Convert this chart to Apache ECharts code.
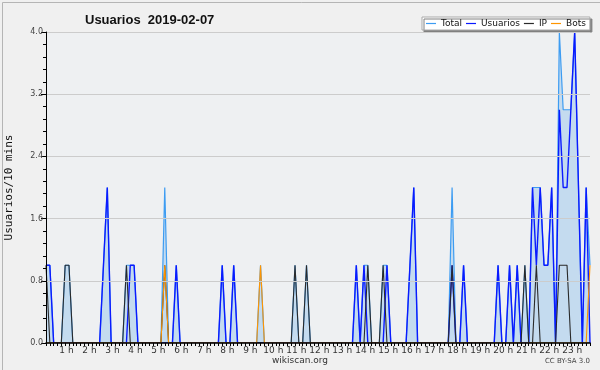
<!DOCTYPE html>
<html><head><meta charset="utf-8">
<script src="https://cdn.jsdelivr.net/npm/echarts@6/dist/echarts.min.js"></script>
<style>html,body{margin:0;padding:0;background:#f0f0f0}#c{width:600px;height:370px}</style>
</head><body><div id="c"></div>
<script>
// one value per 10 minutes; each row is one hour (00h .. 23h), last slot shown is 23:40
var total = [
 1,1,0,0,0,1, 1,0,0,0,0,0, 0,0,0,1,2,0, 0,0,0,1,1,1,
 0,0,0,0,0,0, 0,2,0,0,1,0, 0,0,0,0,0,0, 0,0,0,0,1,0,
 0,1,0,0,0,0, 0,0,1,0,0,0, 0,0,0,0,0,1, 0,0,1,0,0,0,
 0,0,0,0,0,0, 0,0,0,1,0,1, 1,0,0,0,1,1, 0,0,0,0,0,1,
 2,0,0,0,0,0, 0,0,0,0,2,0, 0,1,0,0,0,0, 0,0,0,0,1,0,
 0,1,0,1,0,1, 0,2,2,2,1,1, 2,0,4,3,3,3, 4,2,0,2,1
];
var usuarios = [
 1,1,0,0,0,0, 0,0,0,0,0,0, 0,0,0,1,2,0, 0,0,0,0,1,1,
 0,0,0,0,0,0, 0,0,0,0,1,0, 0,0,0,0,0,0, 0,0,0,0,1,0,
 0,1,0,0,0,0, 0,0,0,0,0,0, 0,0,0,0,0,0, 0,0,0,0,0,0,
 0,0,0,0,0,0, 0,0,0,1,0,1, 0,0,0,0,0,1, 0,0,0,0,0,1,
 2,0,0,0,0,0, 0,0,0,0,1,0, 0,1,0,0,0,0, 0,0,0,0,1,0,
 0,1,0,1,0,0, 0,2,1,2,1,1, 2,0,3,2,2,3, 4,2,0,2,0
];
var ip = [
 1,0,0,0,0,1, 1,0,0,0,0,0, 0,0,0,0,0,0, 0,0,0,1,0,0,
 0,0,0,0,0,0, 0,1,0,0,0,0, 0,0,0,0,0,0, 0,0,0,0,0,0,
 0,0,0,0,0,0, 0,0,0,0,0,0, 0,0,0,0,0,1, 0,0,1,0,0,0,
 0,0,0,0,0,0, 0,0,0,0,0,0, 1,0,0,0,1,0, 0,0,0,0,0,0,
 0,0,0,0,0,0, 0,0,0,0,1,0, 0,0,0,0,0,0, 0,0,0,0,0,0,
 0,0,0,0,0,1, 0,0,1,0,0,0, 0,0,1,1,1,0, 0,0,0,0,0
];
var bots = [
 0,0,0,0,0,0, 0,0,0,0,0,0, 0,0,0,0,0,0, 0,0,0,0,0,0,
 0,0,0,0,0,0, 0,1,0,0,0,0, 0,0,0,0,0,0, 0,0,0,0,0,0,
 0,0,0,0,0,0, 0,0,1,0,0,0, 0,0,0,0,0,0, 0,0,0,0,0,0,
 0,0,0,0,0,0, 0,0,0,0,0,0, 0,0,0,0,0,0, 0,0,0,0,0,0,
 0,0,0,0,0,0, 0,0,0,0,0,0, 0,0,0,0,0,0, 0,0,0,0,0,0,
 0,0,0,0,0,0, 0,0,0,0,0,0, 0,0,0,0,0,0, 0,0,0,0,1
];
var hourLabels = ['1 h','2 h','3 h','4 h','5 h','6 h','7 h','8 h','9 h','10 h','11 h','12 h',
 '13 h','14 h','15 h','16 h','17 h','18 h','19 h','20 h','21 h','22 h','23 h'];
var yTicks = [0, 0.8, 1.6, 2.4, 3.2, 4.0];

var slots = [];
for (var k = 0; k < total.length; k++) {
  var hh = Math.floor(k / 6), mm = (k % 6) * 10;
  slots.push((hh < 10 ? '0' : '') + hh + ':' + (mm < 10 ? '0' : '') + mm);
}

var chart = echarts.init(document.getElementById('c'), null, {renderer: 'canvas'});
var lineBase = {type: 'line', symbol: 'none', animation: false};
chart.setOption({
  backgroundColor: '#f0f0f0',
  animation: false,
  title: {
    text: 'Usuarios  2019-02-07', left: 80, top: 9,
    textStyle: {fontFamily: 'Liberation Sans', fontSize: 13, fontWeight: 'bold', color: '#111'}
  },
  legend: {
    left: 422, top: 17, padding: [2, 4, 2, 4], itemGap: 4,
    backgroundColor: '#ffffff', borderColor: '#aaaaaa', borderWidth: 1,
    shadowColor: '#808080', shadowBlur: 0, shadowOffsetX: 2, shadowOffsetY: 2,
    icon: 'rect', itemWidth: 10, itemHeight: 1.2,
    textStyle: {fontFamily: 'DejaVu Sans', fontSize: 9, color: '#111'},
    data: ['Total', 'Usuarios', 'IP', 'Bots']
  },
  grid: {left: 46, right: 10, top: 32, bottom: 27, show: true, backgroundColor: '#eef0f2', borderWidth: 0,
    containLabel: false, outerBoundsMode: 'none'},
  xAxis: {
    type: 'category', boundaryGap: false, data: slots, z: 10,
    axisLine: {lineStyle: {color: '#000', width: 1.5}},
    axisTick: {show: true, interval: 0, length: 3, lineStyle: {color: '#000'}},
    axisLabel: {
      interval: function (i) { return i > 0 && i % 6 === 0; },
      formatter: function (v, i) { return hourLabels[i / 6 - 1]; },
      margin: 3, fontSize: 9, fontFamily: 'DejaVu Sans', color: '#333', padding: [0, 5, 0, 0]
    },
    splitLine: {show: false}
  },
  yAxis: {
    type: 'value', min: yTicks[0], max: yTicks[yTicks.length - 1], interval: 0.8, z: 10,
    name: 'Usuarios/10 mins', nameLocation: 'middle', nameGap: 31, nameRotate: 90,
    nameTextStyle: {fontFamily: 'DejaVu Sans Mono', fontSize: 11, color: '#111'},
    axisLine: {show: true, lineStyle: {color: '#000', width: 1}},
    axisTick: {show: true, length: 5, lineStyle: {color: '#000'}},
    minorTick: {show: true, splitNumber: 5, length: 3, lineStyle: {color: '#000'}},
    axisLabel: {formatter: function (v) { return v.toFixed(1); }, margin: 3, fontSize: 8,
      fontFamily: 'DejaVu Sans', color: '#444'},
    splitLine: {show: true, lineStyle: {color: '#cccccc', width: 1}}
  },
  series: [
    Object.assign({}, lineBase, {name: 'Total', data: total, z: 2,
      lineStyle: {color: '#3d9cf2', width: 1.2}, itemStyle: {color: '#3d9cf2'},
      areaStyle: {color: '#c4dbef', opacity: 1}}),
    Object.assign({}, lineBase, {name: 'Usuarios', data: usuarios, z: 3,
      lineStyle: {color: '#0a1aff', width: 1.4}, itemStyle: {color: '#0a1aff'}}),
    Object.assign({}, lineBase, {name: 'IP', data: ip, z: 4,
      lineStyle: {color: '#2a2a2a', width: 1.1}, itemStyle: {color: '#2a2a2a'}}),
    Object.assign({}, lineBase, {name: 'Bots', data: bots, z: 5,
      lineStyle: {color: '#ff9500', width: 1.1}, itemStyle: {color: '#ff9500'}})
  ],
  graphic: [
    {type: 'rect', left: 0, top: 0, z: -1, silent: true,
      shape: {x: 0.5, y: 0.5, width: 599, height: 369}, style: {fill: 'none', stroke: '#b5b5b5', lineWidth: 1}},
    {type: 'text', left: 'center', top: 356, style: {text: 'wikiscan.org', fontFamily: 'DejaVu Sans', fontSize: 9, fill: '#333'}},
    {type: 'text', right: 10, top: 358, style: {text: 'CC BY-SA 3.0', fontFamily: 'DejaVu Sans', fontSize: 7, fill: '#444'}}
  ]
});
</script></body></html>
